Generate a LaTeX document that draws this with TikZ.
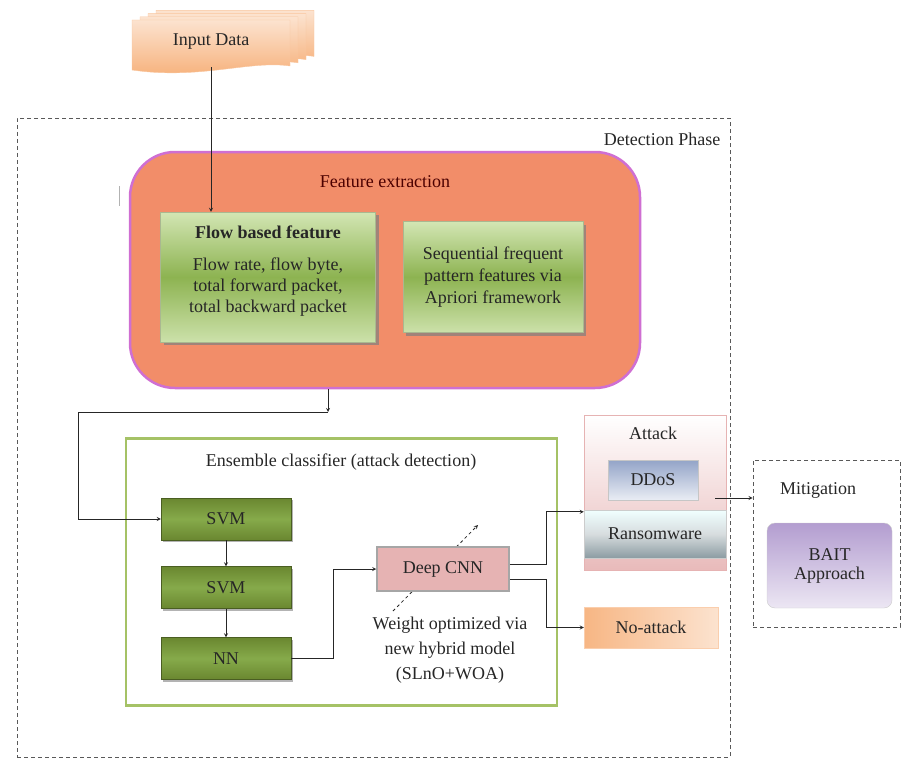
\documentclass[tikz,border=0pt]{standalone}
\usepackage{fontspec}
\setmainfont{Liberation Serif}
\usetikzlibrary{shadows}

\definecolor{peach}{HTML}{F6AE76}
\definecolor{salmon}{HTML}{F28D69}
\definecolor{orchid}{HTML}{CF6FD2}
\definecolor{leaf}{HTML}{A5C266}
\definecolor{olive}{HTML}{6A8730}
\definecolor{lightleaf}{HTML}{D3E6B4}
\definecolor{midleaf}{HTML}{8DB351}
\definecolor{rose}{HTML}{E6B3B3}
\definecolor{steel}{HTML}{93A4C8}
\definecolor{sea}{HTML}{8C9CA2}
\definecolor{lilac}{HTML}{B39DD0}

\begin{document}
\begin{tikzpicture}[x=1pt, y=-1pt, >=stealth, font=\rmfamily\fontsize{18}{24}\selectfont,
  every node/.style={text=black!85},
  line/.style={draw=black!85, line width=0.8pt},
  dashbox/.style={draw=black!65, dashed, dash pattern=on 4pt off 3pt, line width=0.9pt},
  featbox/.style={top color=lightleaf, bottom color=lightleaf!90!midleaf, middle color=midleaf, draw=lightleaf!80!black,
    drop shadow={shadow xshift=3pt, shadow yshift=-3pt, opacity=.7}},
  algbox/.style={top color=olive, bottom color=olive, middle color=midleaf!80!olive, draw=olive!70!black,
    drop shadow={shadow xshift=2pt, shadow yshift=-2pt, opacity=.6}, minimum width=130, minimum height=42}]
\useasboundingbox (0,0) rectangle (903,760);

% input data stack
\foreach \d in {24,16,8,0} {
  \draw[draw=peach!70, top color=peach!35, bottom color=peach, shift={(\d,-0.4*\d)}]
    (132,20) -- (290,20) -- (290,66) .. controls (250,60) and (200,80) .. (132,70) -- cycle;
}
\node[minimum width=158, minimum height=50] (input) at (211,42) {Input Data};

% detection phase
\node[dashbox, minimum width=713, minimum height=639] (detect) at (373.5,437.5) {};
\node (detlbl) at (662,139) {Detection Phase};

% feature extraction
\node[fill=salmon, draw=orchid, line width=2.5pt, rounded corners=45pt, minimum width=510, minimum height=236] (fe) at (385,270) {};
\node[text=black!70!red] (felbl) at (385,182) {Feature extraction};
\draw[gray!60] (119,186) -- (119,206);
\node[featbox, minimum width=215, minimum height=130] (flow) at (268,277) {};
\node (flowttl) at (268,232) {\bfseries Flow based feature};
\node[align=center, font=\rmfamily\fontsize{18}{21}\selectfont] (flowtxt) at (268,287) {Flow rate, flow byte,\\total forward packet,\\total backward packet};
\node[featbox, minimum width=180, minimum height=111, align=center, font=\rmfamily\fontsize{18}{22}\selectfont] (seq) at (493,277) {Sequential frequent\\pattern features via\\Apriori framework};

% ensemble classifier
\node[draw=leaf, line width=2.5pt, minimum width=431, minimum height=267] (ens) at (341.5,572) {};
\node (enslbl) at (341,462) {Ensemble classifier (attack detection)};
\node[algbox] (svma) at (226,519) {SVM};
\node[algbox] (svmb) at (226,587.5) {SVM};
\node[algbox] (nn) at (226,658.5) {NN};

\coordinate (wlow) at (393,611);
\coordinate (whigh) at (478,525);
\draw[line, dashed, ->] (wlow) -- (whigh);
\node[fill=rose, draw=gray!70, line width=1.5pt, minimum width=132, minimum height=44] (cnn) at (443,569) {Deep CNN};
\node[align=center, font=\rmfamily\fontsize{18}{25}\selectfont] (wt) at (450,650) {Weight optimized via\\new hybrid model\\(SLnO+WOA)};

% attack and no attack
\node[top color=white, bottom color=rose!90, draw=rose, minimum width=142, minimum height=155] (attack) at (655,492.5) {};
\node (attlbl) at (653,433) {Attack};
\node[top color=steel, bottom color=steel!20, draw=gray!45, minimum width=90, minimum height=40] (ddos) at (653,480) {DDoS};
\node[top color=cyan!6, bottom color=sea, middle color=sea!35, draw=gray!40, minimum width=142, minimum height=48] (ransom) at (655,534) {Ransomware};
\node[left color=peach!90, right color=peach!35, draw=peach!60, minimum width=134, minimum height=41] (noatt) at (651,627.5) {No-attack};

% mitigation
\node[dashbox, minimum width=147, minimum height=167] (mitig) at (826.5,543.5) {};
\node (mitlbl) at (818,490) {Mitigation};
\node[top color=lilac, bottom color=lilac!25, draw=gray!40, rounded corners=8pt, minimum width=125, minimum height=85, align=center, font=\rmfamily\fontsize{18}{19}\selectfont] (bait) at (829.5,565.5) {BAIT\\Approach};

% connectors
\coordinate (junc) at (328,412);
\coordinate (lft) at (78,412);
\coordinate (out) at (715,498);
\draw[line, ->] (input.south) -- (input.south |- flow.north);
\draw[line, ->] (fe.south -| junc) -- (junc);
\draw[line, ->] (junc) -- (lft) |- (svma.west);
\draw[line, ->] (svma) -- (svmb);
\draw[line, ->] (svmb) -- (nn);
\draw[line, ->] (nn.east) -- ++(42,0) |- (cnn.west);
\draw[line, ->] ([yshift=5pt]cnn.east) -- ++(37,0) |- ([yshift=-2pt]ransom.north west);
\draw[line, ->] ([yshift=-10pt]cnn.east) -- ++(37,0) |- (noatt.west);
\draw[line, ->] (out) -- (out -| mitig.west);
\end{tikzpicture}
\end{document}
